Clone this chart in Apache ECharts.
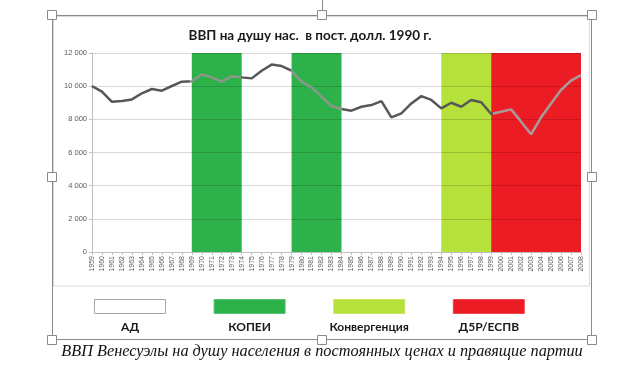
<!DOCTYPE html>
<html><head><meta charset="utf-8">
<script src="https://cdn.jsdelivr.net/npm/echarts@6/dist/echarts.min.js"></script>
<style>html,body{margin:0;padding:0;background:#fff}#c{width:620px;height:370px}</style>
</head><body><div id="c"></div>
<script>
const years = [];
for (let y = 1959; y <= 2008; y++) years.push(String(y));
const gdp = [10000,9670,9060,9100,9200,9570,9830,9730,10010,10270,
             10300,10710,10530,10270,10600,10530,10470,10930,11300,11215,
             10930,10270,9930,9370,8800,8620,8520,8760,8860,9100,
             8120,8360,8960,9400,9170,8660,9000,8760,9170,9030,
             8320,8460,8600,7860,7100,8120,8960,9770,10330,10670];
const yTicks = [0,2000,4000,6000,8000,10000,12000];
const parties = ['АД','КОПЕИ','Конвергенция','Д5Р/ЕСПВ'];
const partyColors = ['#ffffff','#2db24b','#b6e13b','#ec1c24'];
const bandStart = ['1969','1979','1994','1999'];
const bandEnd   = ['1974','1984','1999','2008'];
const bandParty = [1,1,2,3];
const title = 'ВВП на душу нас.  в пост. долл. 1990 г.';
const caption = 'ВВП Венесуэлы на душу населения в постоянных ценах и правящие партии';

const chart = echarts.init(document.getElementById('c'), null, {renderer:'canvas'});
const fmt = v => String(v).replace(/\B(?=(\d{3})+(?!\d))/g, ' ');
const idx = y => years.indexOf(y);

// line colour: darker on white, lighter inside green/red bands (as in the original)
const lineTint = ['#575757','#8b978c','#575757','#a89a9a'];
const n = years.length - 1;
const stops = [];
const segs = [
  [0, idx('1969'), lineTint[0]],
  [idx('1969'), idx('1974'), lineTint[1]],
  [idx('1974'), idx('1979'), lineTint[0]],
  [idx('1979'), idx('1984'), lineTint[1]],
  [idx('1984'), idx('1999'), lineTint[2]],
  [idx('1999'), n, lineTint[3]]
];
segs.forEach(s=>{ stops.push({offset:s[0]/n,color:s[2]}); stops.push({offset:s[1]/n,color:s[2]}); });
const lineGrad = new echarts.graphic.LinearGradient(0,0,1,0,stops);

const graphics = [];
graphics.push({type:'rect', shape:{x:53.5,y:16.5,width:536,height:269.5}, style:{fill:'none',stroke:'#d9d9d9',lineWidth:1}, z:0});
graphics.push({type:'rect', shape:{x:52.5,y:15.5,width:539,height:324}, style:{fill:'none',stroke:'#8a8a8a',lineWidth:1}, z:5});
graphics.push({type:'line', shape:{x1:322.5,y1:0,x2:322.5,y2:11}, style:{stroke:'#8a8a8a',lineWidth:1}, z:5});
[[52,15],[322,15],[592,15],[52,177],[592,177],[52,340],[322,340],[592,340]].forEach(p=>{
  graphics.push({type:'rect', shape:{x:p[0]-4.5,y:p[1]-4.5,width:9,height:9}, style:{fill:'#fff',stroke:'#8a8a8a',lineWidth:1}, z:6});
});
parties.forEach((name,i)=>{
  const x0 = 94 + i*119.6;
  graphics.push({type:'rect', shape:{x:x0+0.5,y:299.5,width:71,height:14},
    style:{fill:partyColors[i], stroke: i===0?'#a6a6a6':echarts.color.lift(partyColors[i],0.2), lineWidth:1}, z:5});
  graphics.push({type:'text', x:x0+36, y:327, style:{text:name, fill:'#1a1a1a', font:'bold 12px Lato', textAlign:'center', textVerticalAlign:'middle'}, z:5});
});
graphics.push({type:'text', x:322, y:352, style:{text:caption, fill:'#111', font:'italic 16.3px "Liberation Serif"', textAlign:'center', textVerticalAlign:'middle'}, z:7});

chart.setOption({
  animation:false,
  title:{text:title, left:'center', top:24, textStyle:{fontFamily:'Lato', fontWeight:'bold', fontSize:13.5, color:'#1a1a1a'}},
  grid:{left:92, right:39, top:53, bottom:118, containLabel:false},
  xAxis:{type:'category', data:years, boundaryGap:false, z:3,
    axisLine:{lineStyle:{color:'#bfbfbf'}},
    axisTick:{show:true, interval:0, length:3, lineStyle:{color:'#bfbfbf'}},
    axisLabel:{interval:0, rotate:90, fontSize:7, fontFamily:'Liberation Sans', color:'#595959', margin:4}},
  yAxis:{type:'value', min:0, max:12000, interval:2000, z:3,
    axisLine:{show:true, lineStyle:{color:'#bfbfbf'}},
    axisTick:{show:true, length:3, lineStyle:{color:'#bfbfbf'}},
    splitLine:{lineStyle:{color:'rgba(0,0,0,0.15)'}},
    axisLabel:{formatter:fmt, fontSize:7.5, fontFamily:'Liberation Sans', color:'#595959', margin:5}},
  series:[
    {type:'line', data:[], z:1, silent:true,
      markArea:{silent:true, data: bandStart.map((s,i)=>[
        {xAxis:s, yAxis:0, itemStyle:{color:partyColors[bandParty[i]], opacity:1}},
        {xAxis:bandEnd[i], yAxis:12000}])}},
    {type:'line', data:gdp, z:4, symbol:'none', smooth:false,
      lineStyle:{width:2.5, color:lineGrad}}
  ],
  graphic:graphics
});
</script></body></html>
